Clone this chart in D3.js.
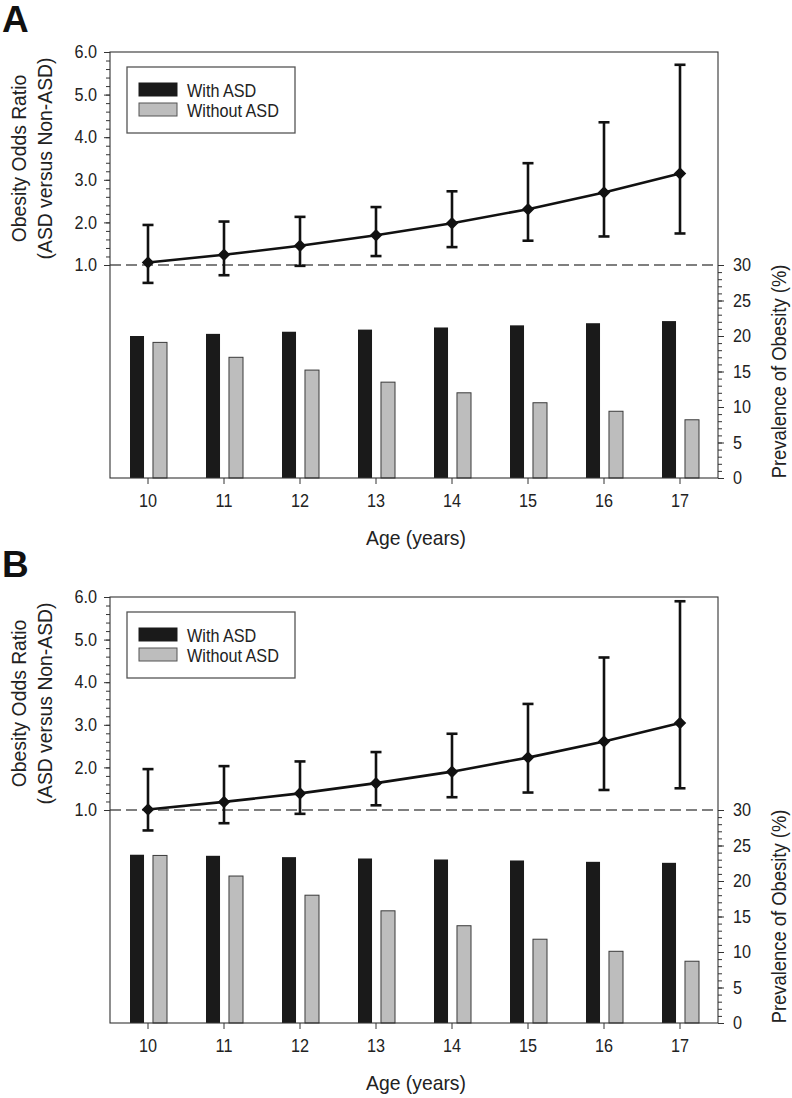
<!DOCTYPE html>
<html>
<head>
<meta charset="utf-8">
<script src="https://cdn.jsdelivr.net/npm/d3@7"></script>
<style>
  html, body { margin: 0; padding: 0; background: #fff; }
  svg { display: block; font-family: "Liberation Sans", Arial, Helvetica, sans-serif; }
</style>
</head>
<body>
<svg id="chart" width="792" height="1098"></svg>
<script>
// ---------- data ----------
const ages = [10, 11, 12, 13, 14, 15, 16, 17];
const seriesNames = ["With ASD", "Without ASD"];

// Panel A
const orA      = [1.06, 1.24, 1.45, 1.70, 1.98, 2.31, 2.70, 3.15];
const orA_low  = [0.58, 0.76, 0.98, 1.21, 1.42, 1.57, 1.67, 1.74];
const orA_high = [1.94, 2.02, 2.13, 2.36, 2.73, 3.39, 4.35, 5.70];
const withASD_A    = [20.0, 20.3, 20.6, 20.9, 21.2, 21.5, 21.8, 22.1];
const withoutASD_A = [19.1, 17.0, 15.2, 13.5, 12.0, 10.6, 9.4, 8.2];

// Panel B
const orB      = [1.01, 1.19, 1.39, 1.63, 1.90, 2.23, 2.61, 3.04];
const orB_low  = [0.52, 0.69, 0.91, 1.11, 1.30, 1.41, 1.47, 1.51];
const orB_high = [1.96, 2.03, 2.14, 2.36, 2.79, 3.49, 4.58, 5.90];
const withASD_B    = [23.7, 23.55, 23.36, 23.17, 23.03, 22.89, 22.70, 22.56];
const withoutASD_B = [23.6, 20.7, 18.0, 15.8, 13.7, 11.8, 10.1, 8.7];

const orTicks = [1, 2, 3, 4, 5, 6];
const prevTicks = [0, 5, 10, 15, 20, 25, 30];

// ---------- drawing ----------
const svg = d3.select("#chart");
const L = 110, R = 718, T = 52, MID = 265, B = 478;

// narrow the glyphs a little (reference font is slightly condensed)
function condense(sel, f) {
  sel.each(function () {
    const w = this.getComputedTextLength();
    if (w > 0) d3.select(this).attr("textLength", w * f).attr("lengthAdjust", "spacingAndGlyphs");
  });
}

function drawPanel(offsetY, letter, orv, lo, hi, withV, withoutV) {
  const g = svg.append("g").attr("transform", `translate(0,${offsetY})`);

  const x = d3.scaleBand().domain(ages).range([L, R]).padding(0);
  const cx = d => x(d) + x.bandwidth() / 2;
  const xSub = d3.scaleBand().domain(seriesNames).range([-18, 19]).paddingInner(0.39);
  const yOR = d3.scaleLinear().domain([1, 6]).range([MID, T]);
  const yP = d3.scaleLinear().domain([0, 30]).range([B, MID]);

  // panel letter
  g.append("text").attr("x", 2).attr("y", 32)
    .attr("font-size", 37).attr("font-weight", "bold").attr("fill", "#111").text(letter);

  // bars
  const barData = ages.map((a, i) => ({ age: a, vals: [withV[i], withoutV[i]] }));
  const grp = g.append("g").selectAll("g").data(barData).join("g");
  grp.selectAll("rect").data(d => d.vals.map((v, j) => ({ age: d.age, s: seriesNames[j], v })))
    .join("rect")
    .attr("x", d => cx(d.age) + xSub(d.s))
    .attr("width", xSub.bandwidth())
    .attr("y", d => yP(d.v))
    .attr("height", d => yP(0) - yP(d.v))
    .attr("fill", d => d.s === "With ASD" ? "#1a1a1a" : "#bdbdbd")
    .attr("stroke", d => d.s === "With ASD" ? "none" : "#3a3a3a")
    .attr("stroke-width", 1);

  // dashed reference line at OR = 1
  g.append("line").attr("x1", L).attr("x2", R).attr("y1", yOR(1)).attr("y2", yOR(1))
    .attr("stroke", "#555").attr("stroke-width", 1.3).attr("stroke-dasharray", "11,5");

  // frame
  g.append("rect").attr("x", L).attr("y", T).attr("width", R - L).attr("height", B - T)
    .attr("fill", "none").attr("stroke", "#333").attr("stroke-width", 1.1);

  // left axis (odds ratio)
  const axL = g.append("g").attr("transform", `translate(${L},0)`)
    .call(d3.axisLeft(yOR).tickValues(orTicks).tickFormat(d3.format(".1f")).tickSize(6).tickPadding(7));
  const axLm = g.append("g").attr("transform", `translate(${L},0)`)
    .call(d3.axisLeft(yOR).tickValues(d3.range(1, 6.001, 0.2)).tickFormat("").tickSize(4));
  // right axis (prevalence)
  const axR = g.append("g").attr("transform", `translate(${R},0)`)
    .call(d3.axisRight(yP).tickValues(prevTicks).tickSize(6).tickPadding(9));
  const axRm = g.append("g").attr("transform", `translate(${R},0)`)
    .call(d3.axisRight(yP).tickValues(d3.range(0, 31, 1)).tickFormat("").tickSize(4));
  // bottom axis
  const axB = g.append("g").attr("transform", `translate(0,${B})`)
    .call(d3.axisBottom(x).tickSize(6).tickPadding(10));

  [axL, axLm, axR, axRm, axB].forEach(a => {
    a.select(".domain").remove();
    a.selectAll("line").attr("stroke", "#333").attr("stroke-width", 1);
    a.selectAll("text").attr("font-size", 18).attr("fill", "#222")
      .attr("font-family", '"Liberation Sans", Arial, sans-serif');
    condense(a.selectAll("text"), 0.9);
  });

  // error bars
  const errData = ages.map((a, i) => ({ age: a, or: orv[i], lo: lo[i], hi: hi[i] }));
  const capW = 11;
  const eb = g.append("g").attr("stroke", "#111").attr("stroke-width", 2.6);
  eb.selectAll("line.v").data(errData).join("line").attr("class", "v")
    .attr("x1", d => cx(d.age)).attr("x2", d => cx(d.age))
    .attr("y1", d => yOR(d.lo)).attr("y2", d => yOR(d.hi));
  eb.selectAll("line.t").data(errData).join("line").attr("class", "t")
    .attr("x1", d => cx(d.age) - capW / 2).attr("x2", d => cx(d.age) + capW / 2)
    .attr("y1", d => yOR(d.hi)).attr("y2", d => yOR(d.hi));
  eb.selectAll("line.b").data(errData).join("line").attr("class", "b")
    .attr("x1", d => cx(d.age) - capW / 2).attr("x2", d => cx(d.age) + capW / 2)
    .attr("y1", d => yOR(d.lo)).attr("y2", d => yOR(d.lo));

  // OR line
  g.append("path").datum(errData)
    .attr("d", d3.line().x(d => cx(d.age)).y(d => yOR(d.or)))
    .attr("fill", "none").attr("stroke", "#111").attr("stroke-width", 2.6);

  // diamonds
  g.append("g").selectAll("path").data(errData).join("path")
    .attr("transform", d => `translate(${cx(d.age)},${yOR(d.or)})`)
    .attr("d", d3.symbol(d3.symbolDiamond2, 100))
    .attr("fill", "#111");

  // legend
  const lg = g.append("g");
  lg.append("rect").attr("x", 127).attr("y", 67).attr("width", 168).attr("height", 66)
    .attr("fill", "#fff").attr("stroke", "#555").attr("stroke-width", 1.3);
  seriesNames.forEach((s, i) => {
    lg.append("rect").attr("x", 139).attr("y", 83 + i * 20).attr("width", 38).attr("height", 13)
      .attr("fill", i === 0 ? "#1a1a1a" : "#bdbdbd")
      .attr("stroke", i === 0 ? "#1a1a1a" : "#555").attr("stroke-width", 1);
    lg.append("text").attr("x", 187).attr("y", 97 + i * 20)
      .attr("font-size", 18).attr("fill", "#222").text(s);
  });
  condense(lg.selectAll("text"), 0.9);

  // axis titles
  const midOR = (T + MID) / 2;
  const titles = g.append("g").attr("fill", "#222");
  titles.append("text").attr("transform", `translate(26,${midOR}) rotate(-90)`)
    .attr("text-anchor", "middle").attr("font-size", 21)
    .text("Obesity Odds Ratio");
  titles.append("text").attr("transform", `translate(52,${midOR}) rotate(-90)`)
    .attr("text-anchor", "middle").attr("font-size", 21)
    .text("(ASD versus Non-ASD)");
  titles.append("text").attr("transform", `translate(786,${(MID + B) / 2}) rotate(-90)`)
    .attr("text-anchor", "middle").attr("font-size", 20)
    .text("Prevalence of Obesity (%)");
  titles.append("text").attr("x", (L + R) / 2 + 2).attr("y", 545)
    .attr("text-anchor", "middle").attr("font-size", 21)
    .text("Age (years)");
  condense(titles.selectAll("text"), 0.92);
}

drawPanel(0, "A", orA, orA_low, orA_high, withASD_A, withoutASD_A);
drawPanel(545, "B", orB, orB_low, orB_high, withASD_B, withoutASD_B);
</script>
</body>
</html>
